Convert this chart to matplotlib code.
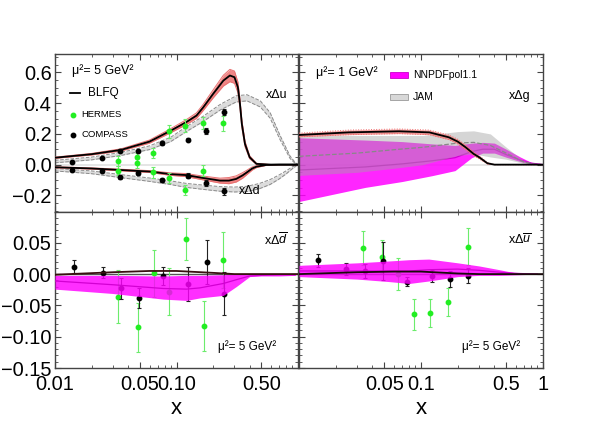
import matplotlib
matplotlib.use('Agg')
import matplotlib.pyplot as plt
from matplotlib.ticker import FixedLocator, FixedFormatter, NullFormatter, MultipleLocator

plt.rcParams['font.family'] = ['Liberation Sans', 'DejaVu Sans']
plt.rcParams['mathtext.fontset'] = 'custom'
plt.rcParams['mathtext.rm'] = 'Liberation Sans'
plt.rcParams['mathtext.it'] = 'Liberation Sans:italic'

# ---------------- top-left: x Delta u, x Delta d (mu^2 = 5 GeV^2) ----------------
blfq_u_x = [0.01, 0.02, 0.035, 0.06, 0.09, 0.12, 0.146, 0.166, 0.2, 0.243, 0.275, 0.3, 0.32, 0.333, 0.345, 0.366, 0.4, 0.455, 0.6, 1.0]
blfq_u_y = [0.045, 0.068, 0.096, 0.15, 0.222, 0.276, 0.319, 0.373, 0.46, 0.547, 0.58, 0.569, 0.504, 0.395, 0.265, 0.135, 0.048, 0.005, 0.0, 0.0]
blfq_u_err = [0.004, 0.005, 0.007, 0.01, 0.013, 0.016, 0.018, 0.02, 0.026, 0.035, 0.04, 0.04, 0.035, 0.03, 0.025, 0.018, 0.01, 0.004, 0.0, 0.0]

blfq_d_x = [0.01, 0.02, 0.035, 0.06, 0.09, 0.12, 0.16, 0.228, 0.27, 0.31, 0.35, 0.38, 0.42, 0.455, 0.55, 0.7, 1.0]
blfq_d_y = [-0.017, -0.025, -0.035, -0.045, -0.062, -0.068, -0.085, -0.104, -0.104, -0.093, -0.07, -0.05, -0.025, -0.013, -0.002, 0.0, 0.0]
blfq_d_err = [0.003, 0.004, 0.005, 0.006, 0.008, 0.01, 0.012, 0.016, 0.02, 0.02, 0.018, 0.014, 0.01, 0.006, 0.002, 0.0, 0.0]

jam_u_x = [0.01, 0.02, 0.035, 0.06, 0.09, 0.12, 0.166, 0.228, 0.31, 0.38, 0.49, 0.59, 0.71, 0.86, 0.95, 1.0]
jam_u_y = [0.02, 0.04, 0.07, 0.11, 0.165, 0.23, 0.298, 0.373, 0.428, 0.435, 0.395, 0.32, 0.178, 0.048, 0.01, 0.0]
jam_u_err = [0.008, 0.009, 0.01, 0.012, 0.014, 0.016, 0.017, 0.018, 0.02, 0.02, 0.02, 0.018, 0.014, 0.008, 0.003, 0.0]

jam_d_x = [0.01, 0.02, 0.035, 0.06, 0.09, 0.12, 0.17, 0.228, 0.3, 0.38, 0.48, 0.59, 0.7, 0.8, 0.9, 1.0]
jam_d_y = [-0.033, -0.05, -0.075, -0.098, -0.118, -0.135, -0.148, -0.158, -0.162, -0.158, -0.14, -0.113, -0.08, -0.05, -0.02, 0.0]
jam_d_err = [0.008, 0.009, 0.01, 0.011, 0.012, 0.013, 0.014, 0.015, 0.016, 0.017, 0.017, 0.016, 0.013, 0.01, 0.006, 0.0]

hermes_u_x = [0.033, 0.047, 0.0476, 0.064, 0.087, 0.117, 0.166, 0.243]
hermes_u_y = [0.026, 0.048, 0.009, 0.076, 0.217, 0.254, 0.269, 0.269]
hermes_u_e = [0.033, 0.03, 0.03, 0.035, 0.043, 0.043, 0.04, 0.05]
hermes_d_x = [0.033, 0.064, 0.087, 0.117, 0.166]
hermes_d_y = [-0.039, -0.05, -0.087, -0.165, -0.039]
hermes_d_e = [0.03, 0.035, 0.035, 0.03, 0.035]

compass_x = [0.0139, 0.0245, 0.0343, 0.0485, 0.0764, 0.1236, 0.174, 0.247]
compass_u_y = [0.015, 0.044, 0.091, 0.087, 0.141, 0.161, 0.221, 0.341]
compass_u_e = [0.005, 0.006, 0.008, 0.008, 0.01, 0.01, 0.02, 0.02]
compass_d_y = [-0.035, -0.044, -0.083, -0.057, -0.098, -0.072, -0.119, -0.174]
compass_d_e = [0.006, 0.007, 0.01, 0.01, 0.012, 0.015, 0.02, 0.025]

# ---------------- top-right: x Delta g (mu^2 = 1 GeV^2) ----------------
blfq_g_x = [0.01, 0.0257, 0.066, 0.117, 0.169, 0.2, 0.232, 0.27, 0.3, 0.35, 0.4, 1.0]
blfq_g_y = [0.193, 0.21, 0.217, 0.21, 0.178, 0.15, 0.113, 0.07, 0.048, 0.009, 0.0, 0.0]
blfq_g_err = [0.012, 0.015, 0.015, 0.015, 0.015, 0.015, 0.015, 0.012, 0.01, 0.005, 0.0, 0.0]

jam_g_x = [0.01, 0.03, 0.066, 0.104, 0.2, 0.27, 0.37, 0.5, 0.68, 0.85, 1.0]
jam_g_up = [0.19, 0.19, 0.19, 0.19, 0.215, 0.22, 0.2, 0.113, 0.03, 0.005, 0.0]
jam_g_mid = [0.054, 0.075, 0.1, 0.113, 0.14, 0.145, 0.125, 0.075, 0.02, 0.003, 0.0]
jam_g_lo = [-0.07, -0.05, -0.02, 0.0, 0.06, 0.07, 0.05, 0.035, 0.01, 0.001, 0.0]

nnpdf_g_x = [0.01, 0.035, 0.07, 0.123, 0.19, 0.26, 0.32, 0.4, 0.5, 0.65, 0.8, 1.0]
nnpdf_g_up = [0.175, 0.16, 0.15, 0.135, 0.125, 0.14, 0.145, 0.14, 0.1, 0.05, 0.015, 0.0]
nnpdf_g_mid = [-0.035, -0.015, 0.005, 0.025, 0.045, 0.085, 0.1, 0.1, 0.065, 0.03, 0.01, 0.0]
nnpdf_g_lo = [-0.24, -0.148, -0.11, -0.072, -0.039, 0.045, 0.075, 0.075, 0.048, 0.02, 0.005, 0.0]

# ---------------- bottom-left: x Delta dbar ----------------
blfq_db_x = [0.01, 0.03, 0.06, 0.1, 0.2, 0.3, 1.0]
blfq_db_y = [-0.001, 0.003, 0.005, 0.005, 0.002, 0.0, 0.0]

nnpdf_db_x = [0.01, 0.03, 0.078, 0.121, 0.156, 0.243, 0.31, 0.4, 0.5, 0.7, 0.95]
nnpdf_db_up = [-0.002, -0.002, -0.003, -0.002, -0.002, -0.001, 0.0, 0.0, 0.0, 0.0, 0.0]
nnpdf_db_mid = [-0.011, -0.017, -0.023, -0.024, -0.022, -0.015, -0.009, -0.003, -0.002, -0.001, -0.001]
nnpdf_db_lo = [-0.024, -0.031, -0.04, -0.042, -0.038, -0.034, -0.02, -0.004, -0.003, -0.003, -0.002]

hermes_db_x = [0.0331, 0.0478, 0.0655, 0.0873, 0.1195, 0.168, 0.242]
hermes_db_y = [-0.036, -0.085, 0.001, -0.028, 0.056, -0.083, 0.023]
hermes_db_e = [0.042, 0.039, 0.037, 0.037, 0.033, 0.04, 0.045]
compass_db_x = [0.0142, 0.0247, 0.0349, 0.0491, 0.0779, 0.1236, 0.177, 0.247]
compass_db_y = [0.012, 0.002, -0.023, -0.038, -0.003, -0.016, 0.019, -0.031]
compass_db_e = [0.011, 0.009, 0.017, 0.016, 0.015, 0.027, 0.035, 0.034]

# ---------------- bottom-right: x Delta ubar ----------------
blfq_ub_x = [0.01, 0.03, 0.06, 0.1, 0.2, 0.3, 1.0]
blfq_ub_y = [0.0, 0.003, 0.004, 0.004, 0.001, 0.0, 0.0]

nnpdf_ub_x = [0.01, 0.03, 0.055, 0.08, 0.116, 0.2, 0.3, 0.44, 0.63, 0.9]
nnpdf_ub_up = [0.014, 0.018, 0.021, 0.023, 0.024, 0.018, 0.013, 0.007, 0.001, 0.0]
nnpdf_ub_mid = [0.005, 0.005, 0.005, 0.005, 0.007, 0.008, 0.006, 0.003, 0.001, 0.0]
nnpdf_ub_lo = [-0.004, -0.008, -0.012, -0.015, -0.011, -0.004, -0.002, -0.002, -0.001, 0.0]

hermes_ub_x = [0.0332, 0.0476, 0.0652, 0.0882, 0.119, 0.165, 0.245]
hermes_ub_y = [0.042, 0.028, 0.0, -0.064, -0.062, -0.045, 0.044]
hermes_ub_e = [0.027, 0.027, 0.025, 0.025, 0.023, 0.022, 0.029]
compass_ub_x = [0.0143, 0.0243, 0.0347, 0.049, 0.077, 0.124, 0.174, 0.245]
compass_ub_y = [0.022, 0.008, 0.005, 0.021, -0.012, -0.003, -0.008, -0.003]
compass_ub_e = [0.01, 0.01, 0.011, 0.03, 0.007, 0.01, 0.013, 0.012]

# tick labels
xt_left = [0.01, 0.05, 0.1, 0.5]
xt_left_lab = ['0.01', '0.05', '0.10', '0.50']
xt_right = [0.05, 0.1, 0.5, 1.0]
xt_right_lab = ['0.05', '0.1', '0.5', '1']
yt_top = [-0.2, 0.0, 0.2, 0.4, 0.6]
yt_top_lab = ['\u22120.2', '0.0', '0.2', '0.4', '0.6']
yt_bot = [-0.15, -0.10, -0.05, 0.0, 0.05]
yt_bot_lab = ['\u22120.15', '\u22120.10', '\u22120.05', '0.00', '0.05']

# ---------------- styles ----------------
RED_FILL = '#f08585'
RED_EDGE = '#e87070'
GRAY_FILL = '#dcdcdc'
GRAY_EDGE = '#8a8a8a'
MAG = '#ff00ff'
MAG_LINE = '#d200d2'
GREEN = '#22ee22'
GREEN_E = '#6cec6c'
SPINE = '#444444'

W, H = 598, 424
fig = plt.figure(figsize=(W / 100, H / 100), dpi=100)

def rect(x0, y0, x1, y1):
    return [x0 / W, 1 - y1 / H, (x1 - x0) / W, (y1 - y0) / H]

ax_tl = fig.add_axes(rect(55, 54, 298, 211.5))
ax_tr = fig.add_axes(rect(299, 54, 543, 211.5))
ax_bl = fig.add_axes(rect(55, 211.5, 298, 368))
ax_br = fig.add_axes(rect(299, 211.5, 543, 368))

minor_x = [0.02, 0.03, 0.04, 0.06, 0.07, 0.08, 0.09, 0.2, 0.3, 0.4, 0.6, 0.7, 0.8, 0.9]

for ax in (ax_tl, ax_tr, ax_bl, ax_br):
    ax.set_xscale('log')
    ax.set_xlim(0.01, 1.0)
    for s in ax.spines.values():
        s.set_color(SPINE)
        s.set_linewidth(1.0)
    ax.tick_params(which='both', direction='in', top=True, right=True, colors=SPINE,
                   labelcolor='black', labelsize=14.4)
    ax.tick_params(axis='y', pad=2.5)
    ax.tick_params(axis='x', pad=5)
    ax.tick_params(which='major', length=4, width=0.8)
    ax.tick_params(which='minor', length=2, width=0.6)
    ax.xaxis.set_minor_locator(FixedLocator(minor_x))
    ax.xaxis.set_minor_formatter(NullFormatter())

for ax in (ax_tl, ax_tr):
    ax.set_ylim(-0.305, 0.72)
    ax.yaxis.set_major_locator(FixedLocator(yt_top))
    ax.yaxis.set_minor_locator(MultipleLocator(0.05))
    ax.xaxis.set_major_locator(FixedLocator([0.01, 0.05, 0.1, 0.5, 1.0]))
    ax.xaxis.set_major_formatter(NullFormatter())
    ax.axhline(0, color='#e0e0e0', lw=1.2, zorder=0.5)

for ax in (ax_bl, ax_br):
    ax.set_ylim(-0.15, 0.1)
    ax.yaxis.set_major_locator(FixedLocator(yt_bot))
    ax.yaxis.set_minor_locator(MultipleLocator(0.01))

ax_tl.yaxis.set_major_formatter(FixedFormatter(yt_top_lab))
ax_tr.yaxis.set_major_formatter(NullFormatter())
ax_bl.yaxis.set_major_formatter(FixedFormatter(yt_bot_lab))
ax_br.yaxis.set_major_formatter(NullFormatter())

ax_bl.xaxis.set_major_locator(FixedLocator(xt_left))
ax_bl.xaxis.set_major_formatter(FixedFormatter(xt_left_lab))
ax_br.xaxis.set_major_locator(FixedLocator(xt_right))
ax_br.xaxis.set_major_formatter(FixedFormatter(xt_right_lab))
ax_bl.set_xlabel('x', fontsize=16, labelpad=3)
ax_br.set_xlabel('x', fontsize=16, labelpad=3)


def band(ax, x, y, e, fill, edge, ls='--', z=2, alpha=1.0):
    lo = [a - b for a, b in zip(y, e)]
    hi = [a + b for a, b in zip(y, e)]
    ax.fill_between(x, lo, hi, color=fill, lw=0, zorder=z, alpha=alpha)
    ax.plot(x, lo, color=edge, lw=0.7, ls=ls, zorder=z + 0.1)
    ax.plot(x, hi, color=edge, lw=0.7, ls=ls, zorder=z + 0.1)


def points(ax, x, y, e, color, ecolor, z=5):
    ax.errorbar(x, y, yerr=e, fmt='o', ms=3.2, mfc=color, mec=color, ecolor=ecolor,
                elinewidth=0.8, capsize=1.5, capthick=0.8, zorder=z)

# ---- top-left ----
band(ax_tl, jam_u_x, jam_u_y, jam_u_err, GRAY_FILL, GRAY_EDGE, z=2)
band(ax_tl, jam_d_x, jam_d_y, jam_d_err, GRAY_FILL, GRAY_EDGE, z=2)
band(ax_tl, blfq_u_x, blfq_u_y, blfq_u_err, RED_FILL, RED_EDGE, ls='-', z=3)
band(ax_tl, blfq_d_x, blfq_d_y, blfq_d_err, RED_FILL, RED_EDGE, ls='-', z=3)
ax_tl.plot(blfq_u_x, blfq_u_y, color='black', lw=1.3, zorder=4)
ax_tl.plot(blfq_d_x, blfq_d_y, color='black', lw=1.3, zorder=4)
points(ax_tl, hermes_u_x, hermes_u_y, hermes_u_e, GREEN, GREEN_E)
points(ax_tl, hermes_d_x, hermes_d_y, hermes_d_e, GREEN, GREEN_E)
points(ax_tl, compass_x, compass_u_y, compass_u_e, 'black', '#222222', z=6)
points(ax_tl, compass_x, compass_d_y, compass_d_e, 'black', '#222222', z=6)

tl = ax_tl.transAxes
ax_tl.text(0.07, 0.895, 'μ²= 5 GeV²', transform=tl, fontsize=9, va='center', ha='left')
ax_tl.plot([0.062, 0.103], [0.752, 0.752], transform=tl, color='black', lw=1.3)
ax_tl.text(0.135, 0.752, 'BLFQ', transform=tl, fontsize=8.5, va='center', ha='left')
ax_tl.plot([0.074], [0.613], 'o', ms=3.2, color=GREEN, transform=tl)
ax_tl.text(0.107, 0.613, 'HERMES', transform=tl, fontsize=6.8, va='center', ha='left')
ax_tl.plot([0.074], [0.486], 'o', ms=3.2, color='black', transform=tl)
ax_tl.text(0.107, 0.486, 'COMPASS', transform=tl, fontsize=6.8, va='center', ha='left')
ax_tl.text(0.91, 0.74, 'xΔu', transform=tl, fontsize=9, va='center', ha='center')
ax_tl.text(0.80, 0.13, 'xΔd', transform=tl, fontsize=9, va='center', ha='center')

# ---- top-right ----
ax_tr.fill_between(nnpdf_g_x, nnpdf_g_lo, nnpdf_g_up, color=MAG, lw=0, alpha=0.85, zorder=2)
ax_tr.plot(nnpdf_g_x, nnpdf_g_mid, color=MAG_LINE, lw=0.9, zorder=2.2)
ax_tr.fill_between(jam_g_x, jam_g_lo, jam_g_up, color='#a3a3a3', lw=0, alpha=0.45, zorder=2.5)
ax_tr.plot(jam_g_x, jam_g_mid, color='#888888', lw=0.9, ls='--', zorder=2.6)
band(ax_tr, blfq_g_x, blfq_g_y, blfq_g_err, RED_FILL, '#f06a6a', ls=':', z=3, alpha=0.85)
ax_tr.plot(blfq_g_x, blfq_g_y, color='black', lw=1.3, zorder=4)

tr = ax_tr.transAxes
ax_tr.text(0.07, 0.88, 'μ²= 1 GeV²', transform=tr, fontsize=9, va='center', ha='left')
ax_tr.add_patch(plt.Rectangle((0.373, 0.847), 0.074, 0.04, transform=tr, facecolor=MAG,
                              edgecolor='#cc00cc', lw=0.6, zorder=6))
ax_tr.text(0.467, 0.867, 'NNPDFpol1.1', transform=tr, fontsize=7.5, va='center', ha='left')
ax_tr.add_patch(plt.Rectangle((0.373, 0.707), 0.074, 0.04, transform=tr, facecolor='#d8d8d8',
                              edgecolor='#999999', lw=0.6, zorder=6))
ax_tr.text(0.467, 0.727, 'JAM', transform=tr, fontsize=7.5, va='center', ha='left')
ax_tr.text(0.905, 0.733, 'xΔg', transform=tr, fontsize=9, va='center', ha='center')

# ---- bottom-left ----
ax_bl.axhline(0, color='#555555', lw=1.0, zorder=1)
points(ax_bl, hermes_db_x, hermes_db_y, hermes_db_e, GREEN, GREEN_E, z=2)
points(ax_bl, compass_db_x, compass_db_y, compass_db_e, 'black', '#222222', z=2.2)
ax_bl.fill_between(nnpdf_db_x, nnpdf_db_lo, nnpdf_db_up, color=MAG, lw=0, alpha=0.82, zorder=3)
ax_bl.plot(nnpdf_db_x, nnpdf_db_mid, color=MAG_LINE, lw=0.9, zorder=3.2)
ax_bl.plot(blfq_db_x, blfq_db_y, color='#3a1010', lw=1.3, zorder=4)
bl = ax_bl.transAxes
ax_bl.text(0.91, 0.818, r'x$\Delta\overline{d}$', transform=bl, fontsize=9, va='center', ha='center')
ax_bl.text(0.67, 0.14, 'μ²= 5 GeV²', transform=bl, fontsize=8.5, va='center', ha='left')

# ---- bottom-right ----
ax_br.axhline(0, color='#555555', lw=1.0, zorder=1)
points(ax_br, hermes_ub_x, hermes_ub_y, hermes_ub_e, GREEN, GREEN_E, z=2)
points(ax_br, compass_ub_x, compass_ub_y, compass_ub_e, 'black', '#222222', z=2.2)
ax_br.fill_between(nnpdf_ub_x, nnpdf_ub_lo, nnpdf_ub_up, color=MAG, lw=0, alpha=0.82, zorder=3)
ax_br.plot(nnpdf_ub_x, nnpdf_ub_mid, color=MAG_LINE, lw=0.9, zorder=3.2)
ax_br.plot(blfq_ub_x, blfq_ub_y, color='#1a0a0a', lw=1.3, zorder=4)
br = ax_br.transAxes
ax_br.text(0.905, 0.818, r'x$\Delta\overline{u}$', transform=br, fontsize=9, va='center', ha='center')
ax_br.text(0.668, 0.14, 'μ²= 5 GeV²', transform=br, fontsize=8.5, va='center', ha='left')

fig.savefig('out.png', dpi=100)
